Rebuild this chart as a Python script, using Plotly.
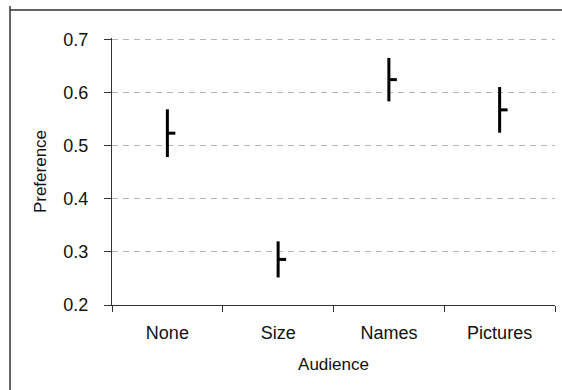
import plotly.graph_objects as go

# Mean preference per audience condition with its interval half-width
audience = ["None", "Size", "Names", "Pictures"]
preference = [0.524, 0.286, 0.625, 0.568]
half_width = [0.045, 0.034, 0.041, 0.043]

# short marker to the right of each interval showing the mean
mean_tick = [0.072] * len(audience)
zeros = [0] * len(audience)

y_ticks = [0.2, 0.3, 0.4, 0.5, 0.6, 0.7]

positions = list(range(len(audience)))
boundaries = [p - 0.5 for p in positions] + [positions[-1] + 0.5]
x_range = [boundaries[0], boundaries[-1]]

FONT = "Liberation Sans, Arial, sans-serif"
INK = "#000000"
AXIS = "#333333"

fig = go.Figure()
fig.add_trace(go.Scatter(
    x=positions,
    y=preference,
    mode="markers",
    marker=dict(size=1, color=INK, opacity=0),
    error_y=dict(type="data", array=half_width, symmetric=True,
                 color=INK, thickness=3, width=0),
    error_x=dict(type="data", array=mean_tick, arrayminus=zeros,
                 symmetric=False, color=INK, thickness=3, width=0),
    showlegend=False,
    hoverinfo="skip",
))

fig.update_layout(
    width=562, height=390,
    margin=dict(l=112, r=7, t=38, b=85),
    paper_bgcolor="white", plot_bgcolor="white",
    font=dict(family=FONT, size=18, color="#111111"),
    xaxis=dict(
        range=x_range,
        tickvals=positions, ticktext=audience,
        ticks="",
        showline=True, linecolor=AXIS, linewidth=1,
        showgrid=False, zeroline=False,
        ticklabelstandoff=11,
        title=dict(text="Audience", standoff=16, font=dict(size=17)),
        fixedrange=True,
    ),
    # boundary ticks between the audience groups
    xaxis2=dict(
        overlaying="x", anchor="y", side="bottom",
        range=x_range,
        tickvals=boundaries, showticklabels=False,
        ticks="outside", ticklen=6, tickcolor=AXIS, tickwidth=1,
        showline=False, showgrid=False, zeroline=False,
        fixedrange=True,
    ),
    yaxis=dict(
        range=[0.2, 0.7035],
        tickvals=y_ticks,
        ticktext=[f"{v:.1f}" for v in y_ticks],
        ticks="outside", ticklen=7, tickcolor=AXIS, tickwidth=1,
        showline=True, linecolor=AXIS, linewidth=1,
        showgrid=True, gridcolor="#b4b4b4", gridwidth=1, griddash="6px,5px",
        zeroline=False,
        ticklabelstandoff=12,
        title=dict(text="Preference", standoff=12, font=dict(size=17)),
        fixedrange=True,
    ),
    shapes=[
        # frame edges around the figure (top and left sides)
        dict(type="line", xref="paper", yref="paper",
             x0=-0.2302, x1=-0.2302, y0=-0.5, y1=1.12,
             line=dict(color=AXIS, width=1.5)),
        dict(type="line", xref="paper", yref="paper",
             x0=-0.2302, x1=1.2, y0=1.105, y1=1.105,
             line=dict(color=AXIS, width=1.5)),
    ],
)

# an invisible trace keeps the boundary-tick axis drawn
fig.add_trace(go.Scatter(x=[boundaries[0]], y=[0.2], xaxis="x2",
                         mode="markers", marker=dict(opacity=0),
                         showlegend=False, hoverinfo="skip"))

fig.write_html("out.html")
